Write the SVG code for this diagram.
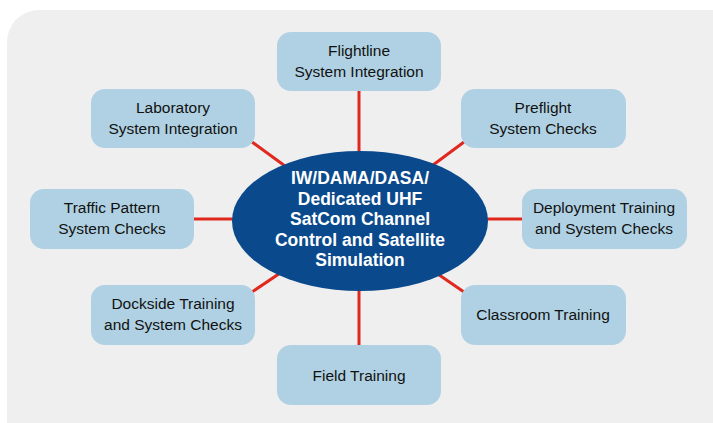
<svg xmlns="http://www.w3.org/2000/svg" width="713" height="423" viewBox="0 0 713 423">
<style>
.box{fill:#b0d1e3;}
.lbl{font-family:"Liberation Sans",Arial,sans-serif;font-size:15.5px;fill:#111;text-anchor:middle;}
.ctr{font-family:"Liberation Sans",Arial,sans-serif;font-size:17.5px;font-weight:bold;fill:#fff;text-anchor:middle;}
.con{stroke:#e0281e;stroke-width:3;fill:none;}
</style>
<rect x="7" y="10" width="740" height="450" rx="32" fill="#efefef"/>
<g id="connectors">
<line class="con" x1="359" y1="91" x2="359" y2="345"/>
<line class="con" x1="194" y1="219" x2="522" y2="219"/>
<line class="con" x1="252" y1="142" x2="359" y2="220"/>
<line class="con" x1="464" y1="142" x2="359" y2="220"/>
<line class="con" x1="252" y1="292" x2="359" y2="220"/>
<line class="con" x1="464" y1="292" x2="359" y2="220"/>
</g>
<g id="center">
<ellipse cx="360" cy="221" rx="128" ry="70" fill="#0a4a8c"/>
<text class="ctr" x="360" y="184">IW/DAMA/DASA/</text>
<text class="ctr" x="360" y="204.5">Dedicated UHF</text>
<text class="ctr" x="360" y="225">SatCom Channel</text>
<text class="ctr" x="360" y="245.5">Control and Satellite</text>
<text class="ctr" x="360" y="266">Simulation</text>
</g>
<g id="flightline"><rect class="box" x="277" y="32" width="164" height="59" rx="14"/><text class="lbl" x="359" y="56">Flightline</text><text class="lbl" x="359" y="77">System Integration</text></g>
<g id="laboratory"><rect class="box" x="91" y="89" width="164" height="59" rx="14"/><text class="lbl" x="173" y="113">Laboratory</text><text class="lbl" x="173" y="134">System Integration</text></g>
<g id="preflight"><rect class="box" x="461" y="89" width="165" height="59" rx="14"/><text class="lbl" x="543" y="113">Preflight</text><text class="lbl" x="543" y="134">System Checks</text></g>
<g id="traffic"><rect class="box" x="30" y="189" width="164" height="60" rx="14"/><text class="lbl" x="112" y="213">Traffic Pattern</text><text class="lbl" x="112" y="234">System Checks</text></g>
<g id="deployment"><rect class="box" x="522" y="189" width="165" height="60" rx="14"/><text class="lbl" x="604" y="213">Deployment Training</text><text class="lbl" x="604" y="234">and System Checks</text></g>
<g id="dockside"><rect class="box" x="91" y="285" width="164" height="60" rx="14"/><text class="lbl" x="173" y="309">Dockside Training</text><text class="lbl" x="173" y="330">and System Checks</text></g>
<g id="classroom"><rect class="box" x="461" y="285" width="165" height="60" rx="14"/><text class="lbl" x="543" y="320">Classroom Training</text></g>
<g id="field"><rect class="box" x="277" y="345" width="164" height="60" rx="14"/><text class="lbl" x="359" y="381">Field Training</text></g>
</svg>
